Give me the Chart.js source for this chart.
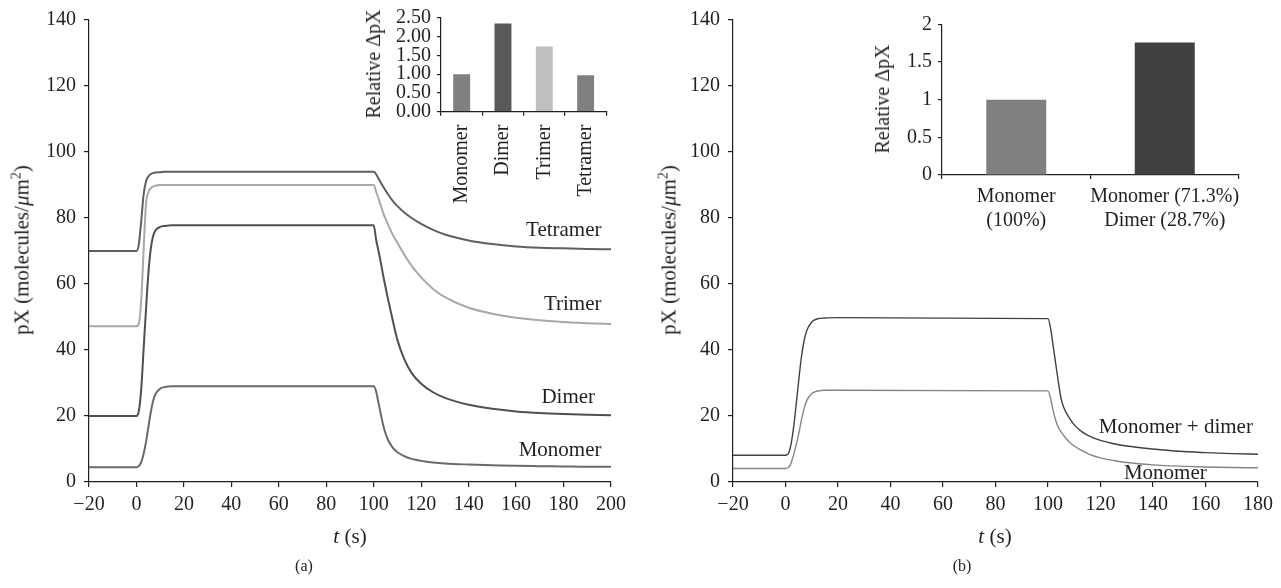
<!DOCTYPE html>
<html>
<head>
<meta charset="utf-8">
<script src="https://cdn.jsdelivr.net/npm/chart.js@4.4.1/dist/chart.umd.min.js"></script>
<style>
  html, body { margin: 0; padding: 0; background: #fff; }
  #wrap { position: relative; width: 1281px; height: 588px; overflow: hidden; font-family: "Liberation Serif", "Times New Roman", serif; color: #231f20; }
  canvas { position: absolute; }
  .t { position: absolute; white-space: nowrap; font-size: 21px; line-height: 1; }
  .rot { transform: translate(-50%, -50%) rotate(-90deg); }
  .ctr { transform: translate(-50%, -50%); }
</style>
</head>
<body>
<div id="wrap">
  <canvas id="mainA" width="640" height="588" style="left:0;top:0"></canvas>
  <canvas id="mainB" width="641" height="588" style="left:640px;top:0"></canvas>
  <canvas id="insetA" width="270" height="230" style="left:350px;top:0"></canvas>
  <canvas id="insetB" width="410" height="240" style="left:850px;top:0"></canvas>

  <div class="t rot" style="left:21px;top:250px">pX (molecules/<i>μ</i>m<sup style="font-size:14px">2</sup>)</div>
  <div class="t rot" style="left:668px;top:250px">pX (molecules/<i>μ</i>m<sup style="font-size:14px">2</sup>)</div>
  <div class="t ctr" style="left:350px;top:536px"><i>t</i> (s)</div>
  <div class="t ctr" style="left:995px;top:536px"><i>t</i> (s)</div>
  <div class="t ctr" style="left:304px;top:566px;font-size:16px">(a)</div>
  <div class="t ctr" style="left:962px;top:566px;font-size:16px">(b)</div>
  <div class="t rot" style="left:373px;top:64px;font-size:20px">Relative ΔpX</div>
  <div class="t rot" style="left:882px;top:99px;font-size:20px">Relative ΔpX</div>
</div>
<script>
// ---------- Data ----------
// Panel (a): time in seconds
const timeA = [-20, 0, 1, 2, 3, 4, 5, 6, 7, 8, 10, 12, 15, 20, 100, 101, 102, 103, 104, 105, 106, 108, 110, 113, 116, 120, 125, 130, 140, 150, 160, 170, 180, 190, 200];
const tetramerA = [70, 70, 72, 79, 87, 91, 92.6, 93.3, 93.6, 93.8, 93.9, 94, 94, 94, 94, 93.3, 92, 90.7, 89.5, 88.3, 87.2, 85.2, 83.6, 81.6, 80, 78.2, 76.4, 75, 73.2, 72.1, 71.4, 71, 70.8, 70.6, 70.5];
const trimerA = [47.2, 47.2, 48, 55, 70, 84, 87.8, 89, 89.5, 89.8, 90, 90, 90, 90, 90, 88, 86, 83.7, 81.5, 79.7, 78, 75, 72.5, 68.7, 65.5, 62, 58.5, 56, 52.8, 51, 49.8, 49, 48.5, 48.1, 47.9];
const dimerA = [20, 20, 21.5, 28, 40, 52, 63, 70.5, 74.5, 76.2, 77.3, 77.6, 77.8, 77.8, 77.8, 73.5, 70, 66.5, 62.5, 59, 55.5, 49, 43, 37, 33, 29.8, 27.2, 25.5, 23.4, 22.2, 21.4, 20.9, 20.6, 20.4, 20.2];
const monomerA = [4.5, 4.5, 4.8, 6, 8.5, 12, 16.5, 21, 24.5, 26.6, 28.3, 28.8, 29, 29, 29, 27.5, 24, 20.5, 17.2, 14.7, 12.8, 10.4, 9, 7.8, 7, 6.4, 5.9, 5.6, 5.3, 5.1, 4.9, 4.8, 4.7, 4.6, 4.6];

// Panel (b)
const timeB = [-20, 0, 1, 2, 3, 4, 5, 6, 7, 8, 10, 12, 15, 20, 100, 101, 102, 103, 104, 105, 106, 108, 110, 113, 116, 120, 125, 130, 140, 150, 160, 170, 180];
const monoDimerB = [8.1, 8.1, 8.5, 11, 16, 23, 30.5, 37.5, 42.5, 45.7, 48.5, 49.4, 49.7, 49.8, 49.5, 46.5, 41, 35.5, 30, 25.2, 22.6, 19.6, 17.3, 15.2, 13.8, 12.6, 11.6, 10.9, 10, 9.3, 8.9, 8.6, 8.4];
const monomerB = [4.1, 4.1, 4.3, 5.5, 8, 11, 14.5, 18.5, 22, 24.5, 26.8, 27.5, 27.8, 27.8, 27.6, 25.3, 21.5, 18.5, 16.5, 15.2, 14.1, 12.2, 10.9, 9.5, 8.3, 7.3, 6.5, 5.9, 5.2, 4.8, 4.55, 4.4, 4.3];

// Insets
const insetACategories = ['Monomer', 'Dimer', 'Trimer', 'Tetramer'];
const insetAValues = [1.00, 2.35, 1.74, 0.97];
const insetATicks = [0, 0.5, 1, 1.5, 2, 2.5];
const insetBCategories = [['Monomer', '(100%)'], ['Monomer (71.3%)', 'Dimer (28.7%)']];
const insetBValues = [1.00, 1.76];
const insetBTicks = [0, 0.5, 1, 1.5, 2];

// Curve labels
const labelsA = ['Tetramer', 'Trimer', 'Dimer', 'Monomer'];
const labelsB = ['Monomer + dimer', 'Monomer'];

// ---------- Helpers ----------
const FONT = '"Liberation Serif", "Times New Roman", serif';
const INK = '#231f20';
const pts = (xs, ys) => xs.map((x, i) => ({ x: x, y: ys[i] }));
const minus = v => (v < 0 ? '\u2212' + Math.abs(v) : String(v));

function curveLabelPlugin(items) {
  return {
    id: 'curveLabels',
    afterDatasetsDraw(chart) {
      const ctx = chart.ctx, xs = chart.scales.x, ys = chart.scales.y;
      ctx.save();
      ctx.fillStyle = INK;
      ctx.font = '21px ' + FONT;
      ctx.textBaseline = 'middle';
      items.forEach(it => {
        ctx.textAlign = it.align;
        ctx.fillText(it.text, xs.getPixelForValue(it.x), ys.getPixelForValue(it.y));
      });
      ctx.restore();
    }
  };
}

function axisCommon(extra) {
  return Object.assign({
    grid: { drawOnChartArea: false, drawTicks: true, tickLength: 5, color: INK, lineWidth: 1.2 },
    border: { color: INK, width: 1.2 },
  }, extra);
}

function mainChart(id, time, series, xMax, padRight, padTop, yWidth, labelItems) {
  return new Chart(document.getElementById(id), {
    type: 'line',
    data: {
      datasets: series.map(s => ({
        data: pts(time, s.values),
        borderColor: s.color,
        borderWidth: s.width,
        pointRadius: 0,
        cubicInterpolationMode: 'monotone',
        fill: false
      }))
    },
    options: {
      responsive: false,
      animation: false,
      devicePixelRatio: 1,
      layout: { padding: { top: padTop, right: padRight, left: 0, bottom: 0 } },
      plugins: { legend: { display: false }, tooltip: { enabled: false } },
      scales: {
        x: axisCommon({
          type: 'linear', min: -20, max: xMax,
          ticks: { stepSize: 20, autoSkip: false, maxRotation: 0, color: INK, padding: 6, font: { family: FONT, size: 20 }, callback: v => minus(v) },
          afterFit: s => { s.height = 106; }
        }),
        y: axisCommon({
          type: 'linear', min: 0, max: 140,
          ticks: { stepSize: 20, color: INK, padding: 8, font: { family: FONT, size: 20 } },
          afterFit: s => { s.width = yWidth; }
        })
      }
    },
    plugins: [curveLabelPlugin(labelItems)]
  });
}

// ---------- Panel (a) ----------
mainChart('mainA', timeA, [
  { values: tetramerA, color: '#5f5f5f', width: 2 },
  { values: trimerA, color: '#a8a8a8', width: 2 },
  { values: dimerA, color: '#505050', width: 2 },
  { values: monomerA, color: '#6a6a6a', width: 2 }
], 200, 29, 18, 89, [
  { text: labelsA[0], x: 196, y: 76.3, align: 'right' },
  { text: labelsA[1], x: 196, y: 53.7, align: 'right' },
  { text: labelsA[2], x: 193.3, y: 25.7, align: 'right' },
  { text: labelsA[3], x: 196, y: 9.4, align: 'right' }
]);

// ---------- Panel (b) ----------
mainChart('mainB', timeB, [
  { values: monoDimerB, color: '#404040', width: 1.4 },
  { values: monomerB, color: '#858585', width: 1.4 }
], 180, 23, 17, 93, [
  { text: labelsB[0], x: 148.7, y: 16.5, align: 'center' },
  { text: labelsB[1], x: 144.7, y: 2.6, align: 'center' }
]);

// ---------- Insets ----------
function insetChart(id, labels, values, colors, yMax, tickValues, fmt, padTop, padRight, yWidth, xHeight, xTicks, barPct) {
  return new Chart(document.getElementById(id), {
    type: 'bar',
    data: {
      labels: labels,
      datasets: [{ data: values, backgroundColor: colors, barPercentage: barPct, categoryPercentage: 1, borderWidth: 0 }]
    },
    options: {
      responsive: false,
      animation: false,
      devicePixelRatio: 1,
      layout: { padding: { top: padTop, right: padRight, left: 0, bottom: 0 } },
      plugins: { legend: { display: false }, tooltip: { enabled: false } },
      scales: {
        x: {
          grid: { drawOnChartArea: false, drawTicks: true, tickLength: 4, offset: true, color: INK, lineWidth: 1.2 },
          border: { color: INK, width: 1.2 },
          ticks: Object.assign({ color: INK, autoSkip: false, font: { family: FONT, size: 20 } }, xTicks),
          afterFit: s => { s.height = xHeight; }
        },
        y: {
          min: 0, max: yMax,
          grid: { drawOnChartArea: false, drawTicks: true, tickLength: 4, color: INK, lineWidth: 1.2 },
          border: { color: INK, width: 1.2 },
          ticks: { autoSkip: false, color: INK, padding: 6, font: { family: FONT, size: 20 }, callback: fmt },
          afterBuildTicks: s => { s.ticks = tickValues.map(v => ({ value: v })); },
          afterFit: s => { s.width = yWidth; }
        }
      }
    }
  });
}

insetChart('insetA', insetACategories, insetAValues, ['#808080', '#595959', '#bfbfbf', '#808080'],
  2.5, insetATicks, v => v.toFixed(2), 16.7, 11, 91, 230 - 111.7,
  { minRotation: 90, maxRotation: 90, padding: 9 }, 0.41);

insetChart('insetB', insetBCategories, insetBValues, ['#808080', '#404040'],
  2, insetBTicks, v => String(v), 24.3, 21, 92, 240 - 175,
  { maxRotation: 0, minRotation: 0, padding: 6 }, 0.404);
</script>
</body>
</html>
